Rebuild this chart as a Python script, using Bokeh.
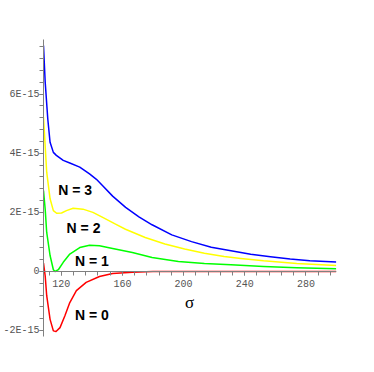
from bokeh.plotting import figure
from bokeh.models import Range1d, FixedTicker, CustomJSTickFormatter, Label, ColumnDataSource
from bokeh.embed import file_html
from bokeh.resources import INLINE
import numpy as np

SCALE = 1e-15

# N = 3 (blue)
blue_x = [108.4, 109.5, 111.2, 112.7, 114.85, 116.8, 121.3, 125.6, 132.1, 138.5, 143.0, 147.1, 153.6,
          162.1, 170.8, 179.4, 192.3, 205.2, 218.1, 231.0, 243.9, 256.8, 269.7, 282.6, 299.8]
blue_y = [7.65, 6.41, 5.16, 4.37, 4.03, 3.93, 3.76, 3.67, 3.53, 3.30, 3.12, 2.90, 2.55,
          2.17, 1.85, 1.58, 1.24, 1.01, 0.82, 0.70, 0.58, 0.50, 0.42, 0.36, 0.32]
# N = 2 (yellow)
yellow_x = [108.4, 110.5, 112.7, 114.85, 117.0, 120.2, 123.4, 127.8, 134.2, 140.7, 147.1, 155.5,
            162.0, 174.9, 187.8, 200.7, 213.6, 226.5, 237.4, 252.3, 274.0, 299.8]
yellow_y = [5.22, 3.36, 2.46, 2.06, 1.97, 1.98, 2.06, 2.14, 2.11, 2.00, 1.83, 1.60,
            1.43, 1.15, 0.93, 0.76, 0.62, 0.51, 0.44, 0.36, 0.27, 0.20]
# N = 1 (green)
green_x = [108.4, 109.5, 110.5, 112.7, 114.85, 116.0, 118.1, 121.3, 125.6, 132.1, 138.5, 145.0,
           153.6, 166.5, 179.4, 196.6, 213.6, 231.0, 252.3, 274.0, 299.8]
green_y = [2.74, 2.11, 1.32, 0.54, 0.06, 0.0, 0.06, 0.31, 0.59, 0.81, 0.89, 0.87,
           0.78, 0.64, 0.47, 0.34, 0.27, 0.23, 0.17, 0.13, 0.09]
# N = 0 (red)
red_x = [108.4, 109.5, 110.5, 112.7, 114.85, 116.6, 119.2, 122.4, 125.6, 129.9, 136.3, 145.0,
         153.6, 166.5, 180.0, 240.0, 299.8]
red_y = [0.28, -0.15, -0.82, -1.62, -2.01, -2.03, -1.90, -1.50, -1.05, -0.65, -0.37, -0.17,
         -0.07, -0.03, 0.0, 0.0, 0.0]

x_ticks = [120, 160, 200, 240, 280]
y_ticks = [-2e-15, 0.0, 2e-15, 4e-15, 6e-15]
y_tick_labels = ["-2E-15", "0", "2E-15", "4E-15", "6E-15"]
series_labels = ["N = 3", "N = 2", "N = 1", "N = 0"]
label_pos = [(118.0, 2.76), (123.5, 1.46), (129.0, 0.34), (129.0, -1.48)]
x_label = "σ"

p = figure(frame_width=293, frame_height=297, output_backend="svg", toolbar_location=None,
           x_range=Range1d(108.4, 300.0), y_range=Range1d(-2.2e-15, 7.85e-15),
           min_border_left=40, min_border_top=39, min_border_right=8, min_border_bottom=18,
           background_fill_color="white", border_fill_color="white")
p.outline_line_color = None
p.grid.visible = False

for xs, ys, col in [(blue_x, blue_y, "#0000ff"), (yellow_x, yellow_y, "#ffff00"),
                    (green_x, green_y, "#00ff00"), (red_x, red_y, "#ff0000")]:
    src = ColumnDataSource(dict(x=xs, y=np.array(ys) * SCALE))
    p.line("x", "y", source=src, color=col, line_width=1.5, line_join="round")

axis_col = "#808080"
lab_col = "#555555"

xa = p.xaxis[0]
xa.fixed_location = 0
xa.ticker = FixedTicker(ticks=x_ticks, minor_ticks=list(np.arange(112, 300, 8)))
for ax in [p.xaxis[0], p.yaxis[0]]:
    ax.axis_line_color = axis_col
    ax.major_tick_line_color = axis_col
    ax.minor_tick_line_color = axis_col
    ax.major_tick_out = 4
    ax.major_tick_in = 0
    ax.minor_tick_out = 4
    ax.minor_tick_in = 0
    ax.major_label_text_font = "Liberation Mono"
    ax.major_label_text_font_size = "10px"
    ax.major_label_text_color = lab_col
xa.major_label_standoff = 5

ya = p.yaxis[0]
ya.ticker = FixedTicker(ticks=y_ticks, minor_ticks=[v * 1e-15 for v in np.arange(-2.0, 7.7, 0.4)])
ya.major_label_standoff = 0
ya.formatter = CustomJSTickFormatter(args=dict(vals=y_ticks, labs=y_tick_labels), code="""
let best = 0, d = Infinity;
for (let i = 0; i < vals.length; i++) { const e = Math.abs(vals[i] - tick); if (e < d) { d = e; best = i; } }
return labs[best];
""")

for txt, (lx, ly) in zip(series_labels, label_pos):
    p.add_layout(Label(x=lx, y=ly * SCALE, text=txt, text_font="Liberation Sans",
                       text_font_style="bold", text_font_size="14px", text_color="black",
                       text_baseline="alphabetic", text_align="left"))

p.add_layout(Label(x=204.0, y=-1.05 * SCALE, text=x_label, text_font="Liberation Serif",
                   text_font_size="17px", text_color="black", text_baseline="alphabetic",
                   text_align="center"))

open("out.html", "w").write(file_html(p, INLINE))
